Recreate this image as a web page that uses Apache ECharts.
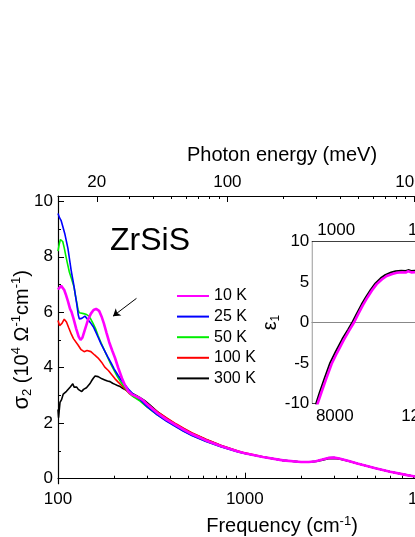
<!DOCTYPE html>
<html><head><meta charset="utf-8">
<script src="https://cdn.jsdelivr.net/npm/echarts@6/dist/echarts.min.js"></script>
<style>html,body{margin:0;padding:0;background:#fff}#c{width:415px;height:537px}</style>
</head><body><div id="c"></div>
<script>
const CM_PER_MEV = 8.0655;
const seriesNames = ['10 K', '25 K', '50 K', '100 K', '300 K'];
const seriesColors = ['#ff00ff', '#0000ff', '#00ee00', '#ff0000', '#000000'];

// sigma_2 (10^4 Ohm^-1 cm^-1) vs frequency (cm^-1)
const s10K = [[100,6.82],[102,6.88],[104,6.95],[106,6.9],[108,6.8],[110,6.65],[113,6.4],[116,6.12],[118,6.02],[121,5.78],[125,5.42],[129,5.12],[132,5.0],[135,5.08],[140,5.42],[145,5.74],[150,5.95],[155,6.08],[160,6.12],[166,6.05],[171,5.85],[176,5.6],[182,5.25],[188,4.92],[195,4.62],[202,4.35],[210,4.0],[220,3.62],[228,3.38],[238,3.15],[250,3.03],[262,2.97],[275,2.9],[286,2.82],[300,2.68],[340,2.37],[380,2.14],[430,1.92],[470,1.77],[520,1.61],[620,1.38],[750,1.17],[920,0.98],[1000,0.92],[1250,0.78],[1600,0.66],[2000,0.6],[2200,0.6],[2400,0.63],[2600,0.69],[2800,0.75],[3000,0.76],[3200,0.73],[3600,0.64],[4000,0.55],[4500,0.46],[5000,0.38],[6000,0.25],[7400,0.13],[9000,0.03]];
const s25K = [[100,9.56],[102,9.4],[104,9.3],[106,9.1],[109,8.8],[113,8.3],[118,7.45],[121,7.05],[124,6.6],[126,6.3],[128.4,5.9],[130,5.76],[132,5.74],[134,5.78],[137,5.83],[139.4,5.86],[142,5.8],[145,5.72],[150,5.6],[154.5,5.48],[159,5.3],[164,5.1],[170,4.86],[178,4.6],[185,4.38],[192,4.18],[200,3.95],[210,3.72],[220,3.52],[230,3.36],[240,3.2],[250,3.08],[275,2.86],[300,2.6],[340,2.3],[380,2.08],[430,1.86],[470,1.71],[520,1.56],[620,1.34],[750,1.14],[920,0.96],[1000,0.91],[1250,0.78],[1600,0.66],[2000,0.6],[2200,0.6],[2400,0.63],[2600,0.69],[2800,0.75],[3000,0.76],[3200,0.73],[3600,0.64],[4000,0.55],[4500,0.46],[5000,0.38],[6000,0.25],[7400,0.13],[9000,0.03]];
const s50K = [[100,8.2],[101.5,8.45],[103,8.62],[104.5,8.66],[106,8.55],[108,8.32],[110,8.05],[112,7.8],[115,7.45],[118,7.22],[120,7.15],[122,6.9],[124,6.6],[126,6.35],[128,6.1],[130,5.98],[133,5.96],[137,5.95],[141,5.93],[145,5.88],[149,5.78],[154,5.6],[159,5.4],[164,5.15],[170,4.9],[178,4.6],[185,4.35],[192,4.12],[200,3.9],[208,3.68],[216,3.5],[228,3.28],[240,3.1],[250,2.98],[275,2.8],[300,2.58],[340,2.3],[380,2.1],[430,1.88],[470,1.72],[520,1.57],[620,1.35],[750,1.15],[920,0.97],[1000,0.91],[1250,0.78],[1600,0.66],[2000,0.6],[2200,0.6],[2400,0.63],[2600,0.69],[2800,0.75],[3000,0.76],[3200,0.73],[3600,0.64],[4000,0.55],[4500,0.46],[5000,0.38],[6000,0.25],[7400,0.13],[9000,0.03]];
const s100K = [[100,5.7],[102,5.52],[105,5.6],[108,5.75],[111,5.65],[114,5.45],[118,5.2],[121,5.05],[124,4.98],[128,4.82],[133,4.65],[138,4.58],[143,4.62],[146,4.64],[150,4.58],[157,4.46],[164,4.35],[171,4.2],[178,4.02],[186,3.9],[194,3.75],[202,3.6],[210,3.48],[219,3.36],[228,3.24],[240,3.08],[255,2.95],[275,2.84],[300,2.7],[340,2.42],[380,2.2],[430,1.97],[470,1.82],[520,1.66],[620,1.42],[750,1.2],[920,1.0],[1000,0.93],[1250,0.79],[1600,0.66],[2000,0.6],[2200,0.6],[2400,0.63],[2600,0.69],[2800,0.74],[3000,0.75],[3200,0.72],[3600,0.64],[4000,0.55],[4500,0.46],[5000,0.38],[6000,0.25],[7400,0.13],[9000,0.03]];
const s300K = [[100,2.5],[100.7,2.2],[101.5,2.45],[102.5,2.75],[104.5,2.85],[106.7,3.05],[109,3.0],[111,3.15],[113.5,3.2],[116,3.3],[118,3.35],[120,3.42],[122,3.3],[124,3.25],[126,3.3],[128.4,3.22],[131,3.18],[134,3.14],[137,3.22],[139.4,3.2],[142,3.28],[145,3.32],[148,3.42],[151,3.52],[154.5,3.62],[158,3.7],[161,3.74],[164,3.68],[167.7,3.65],[172,3.6],[178,3.56],[184,3.52],[190,3.5],[196,3.44],[202,3.4],[208,3.36],[215,3.32],[222,3.26],[230,3.2],[240,3.12],[250,3.07],[262,3.0],[275,2.92],[290,2.82],[310,2.66],[340,2.42],[380,2.18],[430,1.95],[470,1.8],[520,1.64],[620,1.41],[750,1.19],[920,0.99],[1000,0.92],[1250,0.78],[1600,0.66],[2000,0.6],[2200,0.6],[2400,0.62],[2600,0.67],[2800,0.72],[3000,0.73],[3200,0.71],[3600,0.63],[4000,0.55],[4500,0.46],[5000,0.38],[6000,0.25],[7400,0.13],[9000,0.03]];

// inset: epsilon_1 vs frequency (cm^-1)
const eps10K = [[7200,-10.5],[7240,-10],[7400,-8.7],[7600,-7.1],[7862,-5.1],[8100,-3.75],[8400,-2.15],[8650,-0.95],[8853,0],[9050,1.1],[9250,2.15],[9450,3.1],[9650,3.95],[9862,4.75],[10100,5.35],[10307,5.75],[10550,6.0],[10751,6.15],[11000,6.22],[11150,6.18],[11267,6.35],[11400,6.2],[11550,6.22],[11800,6.15]];
const eps300K = [[7130,-10.5],[7170,-10],[7330,-8.6],[7530,-7.0],[7790,-5.0],[8030,-3.65],[8330,-2.05],[8590,-0.85],[8790,0.1],[8990,1.2],[9190,2.25],[9390,3.2],[9590,4.05],[9800,4.85],[10040,5.5],[10250,5.9],[10500,6.2],[10700,6.35],[10950,6.42],[11150,6.38],[11267,6.5],[11400,6.4],[11550,6.42],[11800,6.35]];

// tick values
const freqMajor = [100, 1000, 10000];
const freqMinor = [200,300,400,500,600,700,800,900,2000,3000,4000,5000,6000,7000,8000,9000,20000];
const energyMajor = [20, 100, 1000];           // meV
const energyMinor = [30,40,50,60,70,80,90,200,300,400,500,600,700,800,900,2000,3000];
const sigmaMajor = [0, 2, 4, 6, 8, 10];
const sigmaMinor = [1, 3, 5, 7, 9];
const insetFreqLabels = [8000, 12000];
const insetFreqTicks = [8000, 10000, 12000];
const insetEnergyMajor = [1000, 1500];          // meV
const insetEnergyMinor = [900, 1100, 1200, 1300, 1400];

// arrow annotation (data coordinates)
const arrowFrom = [263, 6.5];
const arrowTo = [197, 5.86];

const FONT = 'Liberation Sans, Arial, sans-serif';
const black = '#000';
const toCm = a => a.map(v => v * CM_PER_MEV);

const chart = echarts.init(document.getElementById('c'), null, {renderer: 'canvas'});

const axisBase = (extra) => Object.assign({
  axisLine: {show: true, lineStyle: {color: black, width: 1.2}},
  splitLine: {show: false},
  nameMoveOverlap: false,
  axisLabel: {color: black, fontSize: 17, fontFamily: FONT},
  nameTextStyle: {color: black, fontSize: 20, fontFamily: FONT}
}, extra);

const mainSeries = [s10K, s25K, s50K, s100K, s300K].map((d, i) => ({
  name: seriesNames[i], type: 'line', data: d,
  xAxisIndex: 0, yAxisIndex: 0, symbol: 'none', smooth: false,
  z: i === 0 ? 5 : 4 - i * 0.1,
  lineStyle: {color: seriesColors[i], width: i === 0 ? 2.6 : 1.6},
  itemStyle: {color: seriesColors[i]},
  markLine: i === 0 ? {
    silent: true, symbol: ['none', 'arrow'], symbolSize: 7,
    label: {show: false},
    lineStyle: {color: black, width: 1, type: 'solid'},
    data: [[{coord: arrowFrom}, {coord: arrowTo}]]
  } : undefined
}));

const option = {
  animation: false,
  backgroundColor: '#fff',
  title: {text: 'ZrSiS', left: 105, top: 220, textStyle: {fontSize: 32, fontWeight: 'normal', color: black, fontFamily: FONT}},
  legend: {
    data: seriesNames, orient: 'vertical', left: 171, top: 283,
    itemWidth: 32, itemHeight: 14, itemGap: 4.6,
    itemStyle: {opacity: 0},
    textStyle: {fontSize: 16, color: black, fontFamily: FONT}
  },
  grid: [
    {left: 58, top: 196, width: 448, height: 287.7, outerBoundsMode: 'none', containLabel: false},
    {left: 312.3, top: 241.7, width: 157.5, height: 161.6, outerBoundsMode: 'none', containLabel: false, show: true, backgroundColor: '#fff', borderWidth: 0, z: 3}
  ],
  xAxis: [
    axisBase({gridIndex: 0, type: 'log', logBase: 10, min: 100, max: 25000, position: 'bottom',
      axisTick: {show: true, inside: true, length: 6, customValues: freqMajor, lineStyle: {color: black}},
      axisLabel: {color: black, fontSize: 17, fontFamily: FONT, margin: 7, customValues: freqMajor, formatter: v => String(Math.round(v))},
      name: 'Frequency (cm{sup|-1})', nameLocation: 'middle', nameGap: 31,
      nameTextStyle: {color: black, fontSize: 20, fontFamily: FONT, lineHeight: 24, rich: {sup: {fontSize: 13, verticalAlign: 'top', lineHeight: 14}}}}),
    {gridIndex: 0, type: 'log', logBase: 10, min: 100, max: 25000, position: 'bottom',
      axisLine: {show: false}, splitLine: {show: false}, axisLabel: {show: false},
      axisTick: {show: true, inside: true, length: 3, customValues: freqMinor, lineStyle: {color: black}}},
    axisBase({gridIndex: 0, type: 'log', logBase: 10, min: 100, max: 25000, position: 'top',
      axisTick: {show: true, inside: true, length: 6, customValues: toCm(energyMajor), lineStyle: {color: black}},
      axisLabel: {color: black, fontSize: 17, fontFamily: FONT, margin: 5, customValues: toCm(energyMajor), formatter: v => String(Math.round(v / CM_PER_MEV))},
      name: 'Photon energy (meV)', nameLocation: 'middle', nameGap: 31}),
    {gridIndex: 0, type: 'log', logBase: 10, min: 100, max: 25000, position: 'top',
      axisLine: {show: false}, splitLine: {show: false}, axisLabel: {show: false},
      axisTick: {show: true, inside: true, length: 3, customValues: toCm(energyMinor), lineStyle: {color: black}}},
    axisBase({gridIndex: 1, type: 'value', min: 7000, max: 14000, position: 'bottom',
      axisTick: {show: true, inside: true, length: 4, customValues: insetFreqTicks, lineStyle: {color: black}},
      axisLabel: {color: black, fontSize: 17, fontFamily: FONT, margin: 5, customValues: insetFreqLabels, formatter: v => String(v)}}),
    axisBase({gridIndex: 1, type: 'value', min: 7000, max: 14000, position: 'top',
      axisTick: {show: true, inside: true, length: 5, customValues: toCm(insetEnergyMajor), lineStyle: {color: black}},
      axisLabel: {color: black, fontSize: 17, fontFamily: FONT, margin: 3, customValues: toCm(insetEnergyMajor), formatter: v => String(Math.round(v / CM_PER_MEV))}}),
    {gridIndex: 1, type: 'value', min: 7000, max: 14000, position: 'top',
      axisLine: {show: false}, splitLine: {show: false}, axisLabel: {show: false},
      axisTick: {show: true, inside: true, length: 3, customValues: toCm(insetEnergyMinor), lineStyle: {color: black}}}
  ],
  yAxis: [
    axisBase({gridIndex: 0, type: 'value', min: -0.18, max: 10.19, position: 'left',
      axisTick: {show: true, inside: true, length: 6, customValues: sigmaMajor, lineStyle: {color: black}},
      axisLabel: {color: black, fontSize: 17, fontFamily: FONT, margin: 5, customValues: sigmaMajor},
      name: '{b|σ}{sub|2} (10{sup|4} Ω{sup|-1}cm{sup|-1})', nameLocation: 'middle', nameGap: 24,
      nameTextStyle: {color: black, fontSize: 20, fontFamily: FONT, lineHeight: 24,
        rich: {b: {fontSize: 22}, sup: {fontSize: 13, verticalAlign: 'top', lineHeight: 14}, sub: {fontSize: 13, verticalAlign: 'bottom', lineHeight: 14}}}}),
    {gridIndex: 0, type: 'value', min: -0.18, max: 10.19, position: 'left',
      axisLine: {show: false}, splitLine: {show: false}, axisLabel: {show: false},
      axisTick: {show: true, inside: true, length: 3, customValues: sigmaMinor, lineStyle: {color: black}}},
    axisBase({gridIndex: 1, type: 'value', min: -10, max: 10, interval: 5, position: 'left',
      axisTick: {show: true, inside: true, length: 5, lineStyle: {color: black}},
      minorTick: {show: true, splitNumber: 2, length: 3, lineStyle: {color: black}},
      axisLabel: {color: black, fontSize: 17, fontFamily: FONT, margin: 3},
      name: '{b|ε}{sub|1}', nameLocation: 'middle', nameGap: 31,
      nameTextStyle: {color: black, fontSize: 20, fontFamily: FONT, lineHeight: 22,
        rich: {b: {fontSize: 20}, sub: {fontSize: 12, verticalAlign: 'bottom', lineHeight: 12}}}})
  ],
  series: mainSeries.concat([
    {name: 'eps 300 K', type: 'line', data: eps300K, xAxisIndex: 4, yAxisIndex: 2, symbol: 'none', z: 6,
      lineStyle: {color: black, width: 1.8}, itemStyle: {color: black},
      markLine: {silent: true, symbol: ['none', 'none'], label: {show: false},
        lineStyle: {color: '#888', width: 1, type: 'solid'}, data: [{yAxis: 0}]}},
    {name: 'eps 10 K', type: 'line', data: eps10K, xAxisIndex: 4, yAxisIndex: 2, symbol: 'none', z: 7,
      lineStyle: {color: '#ff00ff', width: 2.6}, itemStyle: {color: '#ff00ff'}}
  ])
};
chart.setOption(option);
</script></body></html>
